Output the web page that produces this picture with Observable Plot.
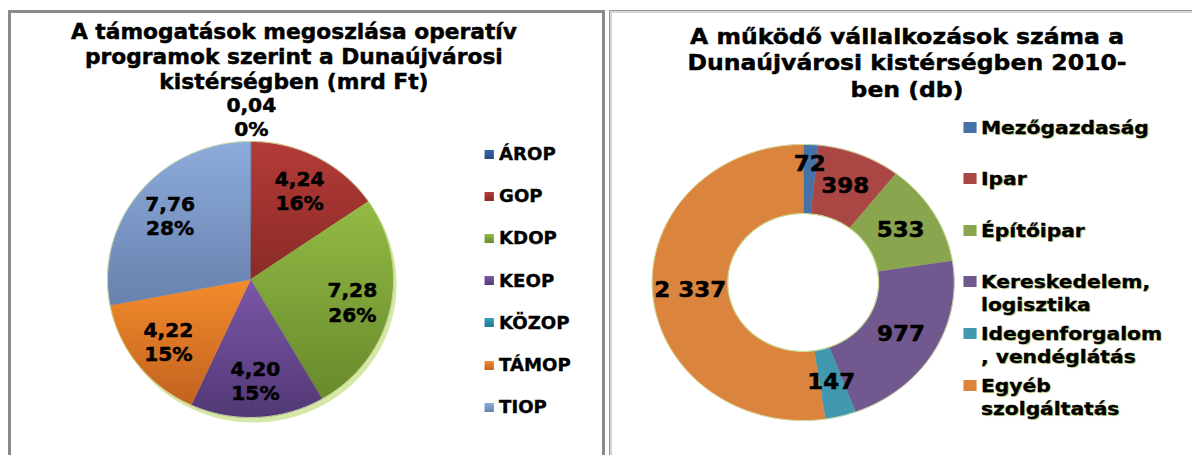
<!DOCTYPE html>
<html><head><meta charset="utf-8">
<script src="https://cdn.jsdelivr.net/npm/d3@7"></script>
<script src="https://cdn.jsdelivr.net/npm/@observablehq/plot@0.6"></script>
<style>
html,body{margin:0;padding:0;background:#fff;}
body{width:1192px;height:455px;position:relative;overflow:hidden;font-family:"DejaVu Sans",Verdana,sans-serif;font-weight:bold;color:#000;}
.panel{position:absolute;box-sizing:border-box;}
#pL{left:8px;top:10px;width:597px;height:480px;border:3px solid #8a8a8a;}
#pR{left:609px;top:10px;width:620px;height:480px;border:1px solid #979797;box-shadow:inset 2px 2px 0 #d5d5d5;}
.content{position:absolute;top:0;height:455px;transform-origin:0 0;}
#cL{left:8px;width:580px;transform:scaleX(1.036);}
#cR{left:609px;width:560px;transform:scaleX(1.094);}
.title{position:absolute;width:600px;text-align:center;white-space:pre;-webkit-text-stroke:0.45px #000;}
.row{position:absolute;display:flex;align-items:flex-start;white-space:pre;}
.row .txt{-webkit-text-stroke:0.35px #000;}
.sw{flex:none;}
.content svg{position:absolute;left:0;top:0;}
#legR .txt{text-shadow:1px 1px 1px #bcd487;}
</style></head><body>
<div class="panel" id="pL"></div>
<div class="panel" id="pR"></div>
<div class="content" id="cL"></div>
<div class="content" id="cR"></div>
<script>
// ---- Left chart data: támogatások operatív programok szerint (mrd Ft)
const progs = ["ÁROP","GOP","KDOP","KEOP","KÖZOP","TÁMOP","TIOP"];
const progValues = [0.04, 4.24, 7.28, 4.20, 0, 4.22, 7.76];
const progPercents = ["0%","16%","26%","15%","0%","15%","28%"];
const progTop = ["#3466a8","#b43b37","#93ba45","#7b57a8","#33a0bb","#f38b2c","#8eabdc"];
const progBottom = ["#244c82","#8a2a27","#688a2c","#523876","#217a90","#c1621f","#6781ad"];
const titleL = ["A támogatások megoszlása operatív","programok szerint a Dunaújvárosi","kistérségben (mrd Ft)"];

// ---- Right chart data: működő vállalkozások száma 2010 (db)
const sectors = ["Mezőgazdaság","Ipar","Építőipar","Kereskedelem,\nlogisztika","Idegenforgalom\n, vendéglátás","Egyéb\nszolgáltatás"];
const sectorValues = [72, 398, 533, 977, 147, 2337];
const sectorColors = ["#4572a7","#aa4643","#89a54e","#71588f","#4198af","#db843d"];
const titleR = ["A működő vállalkozások száma a","Dunaújvárosi kistérségben 2010-","ben (db)"];

const huLocale = d3.formatLocale({decimal: ",", thousands: " ", grouping: [3], currency: ["", ""]});
const fmt2 = huLocale.format(".2f");
const fmtInt = huLocale.format(",d");

function build(values, inner) {
  const arcs = d3.pie().sort(null).value(d => d)(values);
  const total = d3.sum(values);
  const polys = arcs.map((a, i) => {
    const span = a.endAngle - a.startAngle;
    if (span <= 0) return null;
    const n = Math.max(2, Math.ceil(span / (Math.PI / 360)));
    const ts = d3.range(n + 1).map(k => a.startAngle + span * k / n);
    const pts = [];
    if (inner === 0) pts.push({x: 0, y: 0});
    ts.forEach(t => pts.push({x: Math.sin(t), y: Math.cos(t)}));
    if (inner > 0) ts.slice().reverse().forEach(t => pts.push({x: inner * Math.sin(t), y: inner * Math.cos(t)}));
    return {i, pts};
  }).filter(d => d);
  return {arcs, polys, total};
}
function circlePts(r) {
  return d3.range(0, 361, 1).map(d => ({x: r * Math.sin(d * Math.PI / 180), y: r * Math.cos(d * Math.PI / 180)}));
}

// ---------- LEFT ----------
{
  const c = document.getElementById("cL");
  const t = document.createElement("div");
  t.className = "title";
  t.style.cssText = "left:-24px;top:19.5px;font-size:21px;line-height:25px;";
  t.textContent = titleL.join("\n");
  c.appendChild(t);

  const {arcs, polys, total} = build(progValues, 0);
  const labels = arcs.filter(a => a.value > 0).map(a => {
    const mid = (a.startAngle + a.endAngle) / 2;
    const r = a.value / total < 0.01 ? 1.18 : 0.73;
    return {x: r * Math.sin(mid), y: r * Math.cos(mid), text: fmt2(a.value) + "\n" + progPercents[a.index]};
  });
  const marks = [
    Plot.line(circlePts(1), {x: "x", y: "y", fill: "#d6e8a8", stroke: "none", dx: 3, dy: 5}),
    ...polys.map(p => Plot.line(p.pts, {x: "x", y: "y", fill: `url(#lg${p.i})`, stroke: `url(#lg${p.i})`, strokeWidth: 0.6})),
    Plot.line(circlePts(1), {x: "x", y: "y", stroke: "#cfe29c", strokeWidth: 0.8, fill: "none"}),
    Plot.text(labels, {x: "x", y: "y", text: "text", fontFamily: "DejaVu Sans", fontWeight: "bold", fontSize: 19.5, lineHeight: 1.24, fill: "#000", stroke: "#000", strokeWidth: 0.5})
  ];
  const svg = Plot.plot({
    width: 580, height: 455, margin: 0,
    x: {domain: [-1, 1], range: [95.6, 371.6], axis: null},
    y: {domain: [-1, 1], range: [417, 141], axis: null},
    style: {background: "none", overflow: "visible"},
    marks
  });
  const defs = d3.select(svg).insert("defs", ":first-child");
  progs.forEach((p, i) => {
    const g = defs.append("linearGradient").attr("id", "lg" + i).attr("x1", 0).attr("y1", 0).attr("x2", 0).attr("y2", 1);
    g.append("stop").attr("offset", "0%").attr("stop-color", progTop[i]);
    g.append("stop").attr("offset", "100%").attr("stop-color", progBottom[i]);
  });
  c.appendChild(svg);

  progs.forEach((p, i) => {
    const row = document.createElement("div");
    row.className = "row";
    row.style.cssText = `left:459.5px;top:${154 + i * 42.2 - 12}px;font-size:17.5px;line-height:24px;`;
    const sw = document.createElement("div");
    sw.className = "sw";
    sw.style.cssText = `width:9.5px;height:9px;margin-top:7.5px;margin-right:5px;background:linear-gradient(to bottom, ${progTop[i]}, ${progBottom[i]});`;
    const tx = document.createElement("div");
    tx.className = "txt";
    tx.textContent = p;
    row.appendChild(sw); row.appendChild(tx);
    c.appendChild(row);
  });
}

// ---------- RIGHT ----------
{
  const c = document.getElementById("cR");
  const t = document.createElement("div");
  t.className = "title";
  t.style.cssText = "left:-27.6px;top:23.75px;font-size:21.5px;line-height:26.5px;";
  t.textContent = titleR.join("\n");
  c.appendChild(t);

  const inner = 0.5;
  const {arcs, polys, total} = build(sectorValues, inner);
  const labels = arcs.map(a => {
    const mid = (a.startAngle + a.endAngle) / 2;
    const r = a.value / total < 0.02 ? 0.86 : (1 + inner) / 2;
    return {x: r * Math.sin(mid), y: r * Math.cos(mid), text: fmtInt(a.value)};
  });
  const marks = [
    ...polys.map(p => Plot.line(p.pts, {x: "x", y: "y", fill: sectorColors[p.i], stroke: sectorColors[p.i], strokeWidth: 0.6})),
    Plot.line(circlePts(1), {x: "x", y: "y", stroke: "#d3e5a3", strokeWidth: 0.8, fill: "none"}),
    Plot.line(circlePts(inner), {x: "x", y: "y", stroke: "#c6dc8e", strokeWidth: 1, fill: "none"}),
    Plot.text(labels, {x: "x", y: "y", text: "text", fontFamily: "DejaVu Sans", fontWeight: "bold", fontSize: 21, fill: "#000", stroke: "#000", strokeWidth: 0.5})
  ];
  const svg = Plot.plot({
    width: 560, height: 455, margin: 0,
    x: {domain: [-1, 1], range: [39, 315], axis: null},
    y: {domain: [-1, 1], range: [420, 144], axis: null},
    style: {background: "none", overflow: "visible"},
    marks
  });
  c.appendChild(svg);

  const leg = document.createElement("div");
  leg.id = "legR";
  c.appendChild(leg);
  sectors.forEach((s, i) => {
    const row = document.createElement("div");
    row.className = "row";
    row.style.cssText = `left:324px;top:${127 + i * 51.6 - 11.5}px;font-size:18.5px;line-height:23px;`;
    const sw = document.createElement("div");
    sw.className = "sw";
    sw.style.cssText = `width:11.5px;height:11px;margin-top:6px;margin-right:4.5px;background:${sectorColors[i]};`;
    const tx = document.createElement("div");
    tx.className = "txt";
    tx.textContent = s;
    row.appendChild(sw); row.appendChild(tx);
    leg.appendChild(row);
  });
}
</script>
</body></html>
